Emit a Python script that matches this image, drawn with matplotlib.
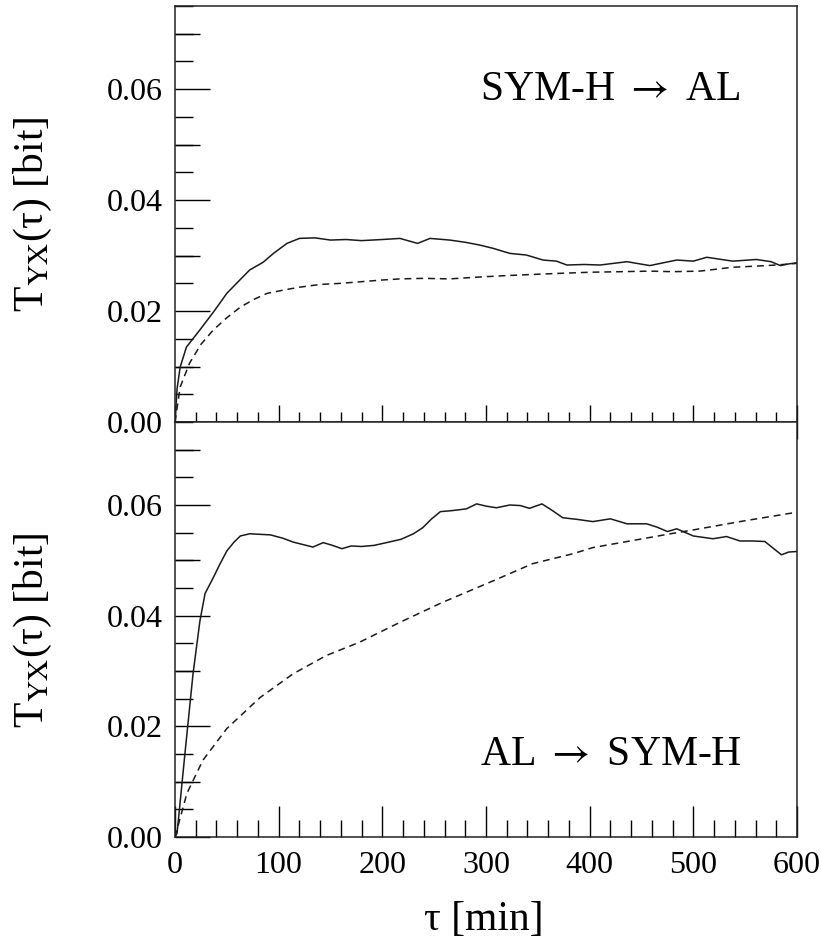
import matplotlib
matplotlib.use("Agg")
import matplotlib.pyplot as plt
from matplotlib.ticker import MultipleLocator, FormatStrFormatter

plt.rcParams['font.family'] = ['Liberation Serif', 'DejaVu Serif']
plt.rcParams['mathtext.fontset'] = 'stix'

# SYM-H -> AL
tau_sa = [0, 2, 5, 11, 24, 37, 50, 62, 72, 85, 95, 108, 120, 135, 150, 165, 180,
          200, 217, 234, 246, 265, 280, 294, 307, 323, 339, 355, 368, 378, 395,
          410, 436, 458, 484, 500, 513, 538, 561, 575, 584, 592, 600]
te_sa = [0.0, 0.006, 0.0099, 0.0135, 0.0166, 0.0198, 0.0232, 0.0255, 0.0274,
         0.0288, 0.0304, 0.0322, 0.0331, 0.0332, 0.0328, 0.0329, 0.0327, 0.0329,
         0.0331, 0.0322, 0.0331, 0.0328, 0.0324, 0.0319, 0.0313, 0.0304, 0.0301,
         0.0292, 0.0290, 0.0283, 0.0284, 0.0283, 0.0289, 0.0282, 0.0292, 0.0290,
         0.0297, 0.0290, 0.0293, 0.0289, 0.0282, 0.0285, 0.0287]
tau_sa_ref = [0, 5, 14, 25, 37, 50, 63, 76, 89, 105, 120, 140, 160, 180, 200, 217,
              240, 265, 290, 320, 345, 371, 400, 430, 458, 480, 506, 520, 538,
              560, 580, 600]
te_sa_ref = [0.0, 0.0063, 0.0106, 0.0140, 0.0166, 0.0188, 0.0207, 0.0221, 0.0232,
             0.0238, 0.0243, 0.0248, 0.0250, 0.0253, 0.0256, 0.0258, 0.0259,
             0.0258, 0.0261, 0.0264, 0.0266, 0.0268, 0.0270, 0.0271, 0.0272,
             0.0271, 0.0272, 0.0275, 0.0279, 0.0281, 0.0283, 0.0286]

# AL -> SYM-H
tau_as = [0, 2, 9.6, 17.4, 24, 29, 37, 43, 50, 57, 63, 72, 92, 104, 114, 133,
          143, 152, 161, 170, 180, 192, 204, 218, 230, 239, 247, 256, 268, 281,
          291, 300, 310, 323, 333, 342, 354, 364, 374, 388, 403, 420, 436, 455,
          465, 475, 484, 500, 519, 532, 545, 557, 569, 577, 585, 592, 600]
te_as = [0.0, 0.0007, 0.0151, 0.0295, 0.0390, 0.0440, 0.0469, 0.0492, 0.0517,
         0.0533, 0.0544, 0.0548, 0.0546, 0.0540, 0.0533, 0.0524, 0.0532, 0.0527,
         0.0521, 0.0526, 0.0525, 0.0527, 0.0532, 0.0538, 0.0548, 0.0559, 0.0574,
         0.0588, 0.0590, 0.0593, 0.0602, 0.0598, 0.0595, 0.0600, 0.0599, 0.0594,
         0.0602, 0.0590, 0.0577, 0.0574, 0.0570, 0.0575, 0.0566, 0.0566, 0.0560,
         0.0552, 0.0557, 0.0544, 0.0539, 0.0543, 0.0535, 0.0535, 0.0534, 0.0522,
         0.0510, 0.0515, 0.0516]
tau_as_ref = [0, 11.5, 27, 50, 82, 114, 146, 178, 217, 258, 307, 345, 384, 403,
              436, 478, 500, 548, 600]
te_as_ref = [0.0, 0.0079, 0.0139, 0.0196, 0.0252, 0.0295, 0.0328, 0.0352, 0.0388,
             0.0424, 0.0463, 0.0494, 0.0512, 0.0523, 0.0534, 0.0548, 0.0555,
             0.0571, 0.0587]

panels = [
    (tau_sa, te_sa, tau_sa_ref, te_sa_ref, r'SYM-H $\rightarrow$ AL', 0.058),
    (tau_as, te_as, tau_as_ref, te_as_ref, r'AL $\rightarrow$ SYM-H', 0.013),
]

fig = plt.figure(figsize=(8.21, 9.42), dpi=100)
left, width = 175 / 821, 622 / 821
ax_top = fig.add_axes([left, 1 - 422 / 942, width, 416 / 942])
ax_bot = fig.add_axes([left, 1 - 837 / 942, width, 415 / 942], sharex=ax_top)
line_col = '#1a1a1a'

for ax, (t, v, tr, vr, label, ylab) in zip([ax_top, ax_bot], panels):
    ax.plot(t, v, color=line_col, lw=1.1)
    ax.plot(tr, vr, color=line_col, lw=1.1, dashes=(4.5, 3.2))
    ax.set_xlim(0, 600)
    ax.set_ylim(0, 0.075)
    ax.text(294, ylab, label, fontsize=30, ha='left', va='baseline')

    for s in ax.spines.values():
        s.set_linewidth(1.1)
        s.set_color('#222222')

    ax.yaxis.set_major_locator(MultipleLocator(0.02))
    ax.yaxis.set_minor_locator(MultipleLocator(0.005))
    ax.yaxis.set_major_formatter(FormatStrFormatter('%.2f'))
    ax.xaxis.set_major_locator(MultipleLocator(100))
    ax.xaxis.set_minor_locator(MultipleLocator(20))
    ax.tick_params(axis='y', which='major', direction='in', length=25, width=1.0,
                   labelsize=23, pad=9, right=False)
    ax.tick_params(axis='y', which='minor', direction='in', length=13, width=1.0,
                   right=False)

    # medium ticks at the odd hundredths
    sec = ax.secondary_yaxis('left')
    sec.set_yticks([0.01, 0.03, 0.05, 0.07])
    sec.set_yticklabels([])
    sec.tick_params(direction='in', length=18, width=1.0)
    sec.spines['left'].set_visible(False)

ax_top.tick_params(axis='x', which='major', direction='inout', length=24, width=1.0,
                   labelbottom=False, top=False)
ax_top.tick_params(axis='x', which='minor', direction='inout', length=14, width=1.0,
                   top=False)
ax_bot.tick_params(axis='x', which='major', direction='in', length=22, width=1.0,
                   labelsize=23, pad=10, top=False)
ax_bot.tick_params(axis='x', which='minor', direction='in', length=12, width=1.0,
                   top=False)

ylabel = 'T$_{\\mathrm{YX}}$(\u03c4) [bit]'
fig.text(33 / 821, 1 - 214 / 942, ylabel, rotation=90, fontsize=30,
         ha='center', va='center')
fig.text(33 / 821, 1 - 630 / 942, ylabel, rotation=90, fontsize=30,
         ha='center', va='center')
fig.text(484 / 821, 1 - 920 / 942, '\u03c4 [min]', fontsize=30,
         ha='center', va='center')

fig.savefig('out.png', dpi=100)
